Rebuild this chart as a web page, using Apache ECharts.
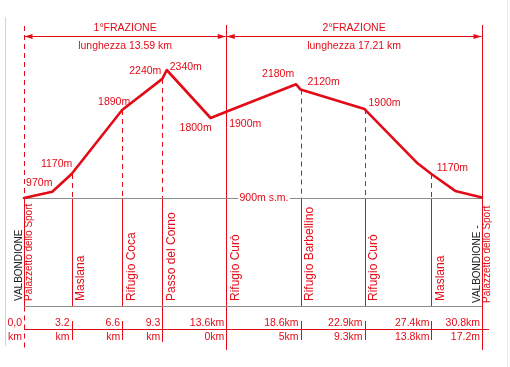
<!DOCTYPE html>
<html><head><meta charset="utf-8">
<script src="https://cdn.jsdelivr.net/npm/echarts@6/dist/echarts.min.js"></script>
<style>html,body{margin:0;padding:0;background:#fff}#c{width:510px;height:367px}</style>
</head><body><div id="c"></div>
<script>
// ---- data ----
const profileKm     = [0, 1.9, 3.2, 6.6, 9.3, 9.6, 12.55, 13.6, 18.3, 18.6, 22.9, 26.4, 27.4, 29.0, 30.8];
const profileElev   = [900, 970, 1170, 1890, 2240, 2340, 1800, 1870, 2180, 2120, 1900, 1300, 1170, 980, 905];
const profileLabels = ['', '970m', '1170m', '1890m', '2240m', '2340m', '1800m', '1900m', '2180m', '2120m', '1900m', '', '1170m', '', ''];

const stationKm    = [0, 3.2, 6.6, 9.3, 13.6, 18.6, 22.9, 27.4, 30.8];
const stationElev  = [900, 1170, 1890, 2240, 1870, 2120, 1900, 1170, 905];
const stationTowns = ['VALBONDIONE', '', '', '', '', '', '', '', 'VALBONDIONE -'];
const stationNames = ['Palazzetto dello Sport', 'Maslana', 'Rifugio Coca', 'Passo del Corno', 'Rifugio Curò',
                      'Rifugio Barbellino', 'Rifugio Curò', 'Maslana', 'Palazzetto dello Sport'];
const totalKmLabels = ['0,0', '3.2', '6.6', '9.3', '13.6km', '18.6km', '22.9km', '27.4km', '30.8km'];
const legKmLabels   = ['km', 'km', 'km', 'km', '0km', '5km', '9.3km', '13.8km', '17.2m'];

const legStart   = [0, 13.6];
const legEnd     = [13.6, 30.8];
const legTitles  = ['1°FRAZIONE', '2°FRAZIONE'];
const legLengths = ['lunghezza 13.59 km', 'lunghezza 17.21 km'];

const baseElev = 900;
const baseLabel = '900m s.m.';

// ---- styling / layout (not data) ----
const stationKind = ['start', 'mid', 'mid', 'long', 'leg', 'mid', 'mid', 'mid', 'leg'];
const labelOffsets = [[0,0],[-13,-9],[-15,-10],[-8,-8],[-17,-8],[19,-3],[-15,10],[19,12],[-18,-10],[23,-7],[20,-6],[0,0],[21,-6],[0,0],[0,0]];
const RED = '#e30b17';
const GRAY = '#8c8c8c';
const FONT = '"Liberation Sans", Arial, sans-serif';
const Y_TOP = 26, Y_ARROW = 36.5, Y_BOX = 306.5, Y_TABLE = 329.5, Y_END = 350;

function px(v){ return Math.round(v) + 0.5; }
function ln(x1,y1,x2,y2,stroke,w,dash){
  return {type:'line', shape:{x1,y1,x2,y2}, style:{stroke, lineWidth:w||1, lineDash:dash||null, fill:null}};
}
function txt(x,y,text,opt){
  return {type:'text', x, y, rotation: opt.rot||0,
    style:{text, fill: opt.color||RED, font: opt.font||('10.5px '+FONT), align: opt.align||'center', verticalAlign: opt.va||'middle',
           backgroundColor: opt.bg||null, padding: opt.pad||null}};
}

const chart = echarts.init(document.getElementById('c'), null, {renderer:'canvas'});
chart.setOption({
  animation: false,
  backgroundColor: '#fff',
  grid: {left: 24, right: 28, top: 26, height: 172},
  xAxis: {type:'value', min: 0, max: 30.8, show: false},
  yAxis: {type:'value', min: 900, max: 2835, show: false},
  graphic: [
    {type:'line', shape:{x1:5.5,y1:17,x2:5.5,y2:346}, style:{stroke:'#cdd6de', lineWidth:1}},
    {type:'line', shape:{x1:507.5,y1:0,x2:507.5,y2:367}, style:{stroke:'#ececec', lineWidth:1}}
  ],
  series: [
    { // station vertical lines and labels
      type:'custom', clip:false, z:1,
      data: stationKm.map((k,i)=>[k, stationElev[i]]),
      renderItem(params, api){
        const i = params.dataIndex;
        const km = api.value(0), el = api.value(1);
        const pb = api.coord([km, baseElev]);
        const yt = api.coord([km, el])[1];
        const x = px(pb[0]), yb = pb[1];
        const kind = stationKind[i];
        const ch = [];
        if (kind === 'start'){
          ch.push(ln(x, Y_TOP, x, yb, RED, 1, [5,4]));
          ch.push(ln(x, yb, x, Y_BOX, RED, 1));
          ch.push(ln(x, Y_BOX, x, Y_END, RED, 1, [5,4]));
        } else if (kind === 'leg'){
          ch.push(ln(x, Y_TOP - 1, x, Y_END, RED, 1));
        } else {
          ch.push(ln(x, yt, x, yb, RED, 1, [5,4]));
          ch.push(ln(x, yb, x, kind === 'long' ? 342 : Y_BOX, RED, 1));
          if (kind !== 'long') ch.push(ln(x, 321, x, 340, RED, 1));
        }
        const yStart = i === stationKm.length - 1 ? 303 : 301;
        if (stationTowns[i]){
          ch.push(txt(pb[0]-5, yStart, stationTowns[i], {rot:Math.PI/2, align:'left', color:'#222', font:'10px '+FONT}));
          ch.push(txt(pb[0]+5, yStart, stationNames[i], {rot:Math.PI/2, align:'left', font:'10px '+FONT}));
        } else {
          ch.push(txt(pb[0]+9.5, yStart, stationNames[i], {rot:Math.PI/2, align:'left', font:'12px '+FONT}));
        }
        ch.push(txt(pb[0]-2, 323, totalKmLabels[i], {align:'right'}));
        ch.push(txt(pb[0]-2, 337, legKmLabels[i], {align:'right'}));
        return {type:'group', children: ch};
      }
    },
    { // baseline, box bottom, table line
      type:'custom', clip:false, z:2,
      data: [[profileKm[0], profileKm[profileKm.length-1]]],
      renderItem(params, api){
        const a = api.coord([api.value(0), baseElev]);
        const b = api.coord([api.value(1), baseElev]);
        const yb = px(a[1]);
        return {type:'group', children:[
          ln(a[0], yb, b[0], yb, GRAY, 1),
          ln(a[0], Y_BOX, b[0], Y_BOX, GRAY, 1),
          ln(a[0], Y_TABLE, b[0] + 7, Y_TABLE, RED, 1),
          txt((a[0]+b[0])/2 + 11, yb, baseLabel, {bg:'#fff', pad:[0,1]})
        ]};
      }
    },
    { // frazione arrows and titles
      type:'custom', clip:false, z:2,
      data: legStart.map((s,i)=>[s, legEnd[i]]),
      renderItem(params, api){
        const i = params.dataIndex;
        const xa = api.coord([api.value(0), baseElev])[0] + 0.5;
        const xb = api.coord([api.value(1), baseElev])[0] - 0.5;
        return {type:'group', children:[
          ln(xa, Y_ARROW, xb, Y_ARROW, RED, 1),
          {type:'polygon', shape:{points:[[xa, Y_ARROW],[xa+8, Y_ARROW-2.5],[xa+8, Y_ARROW+2.5]]}, style:{fill:RED}},
          {type:'polygon', shape:{points:[[xb, Y_ARROW],[xb-8, Y_ARROW-2.5],[xb-8, Y_ARROW+2.5]]}, style:{fill:RED}},
          txt((xa+xb)/2, 28, legTitles[i], {}),
          txt((xa+xb)/2, 46, legLengths[i], {})
        ]};
      }
    },
    { // elevation profile
      type:'line', z:5, symbol:'none', silent:true,
      data: profileKm.map((k,i)=>[k, profileElev[i]]),
      lineStyle:{color:RED, width:2.6, join:'round', cap:'round'}
    },
    { // elevation labels
      type:'custom', clip:false, z:6,
      data: profileKm.map((k,i)=>[k, profileElev[i]]),
      renderItem(params, api){
        const i = params.dataIndex;
        if (!profileLabels[i]) return null;
        const p = api.coord([api.value(0), api.value(1)]);
        const o = labelOffsets[i];
        return txt(p[0]+o[0], p[1]+o[1], profileLabels[i], {});
      }
    }
  ]
});
</script></body></html>
